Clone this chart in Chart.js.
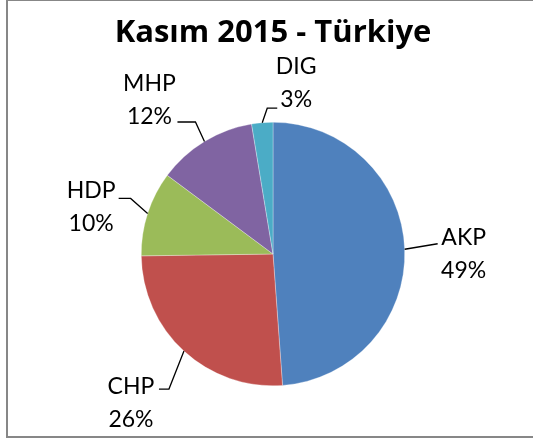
<!DOCTYPE html>
<html lang="tr">
<head>
<meta charset="utf-8">
<title>Kasım 2015 - Türkiye</title>
<script src="https://cdn.jsdelivr.net/npm/chart.js@4.4.0/dist/chart.umd.min.js"></script>
<style>
    html, body { margin: 0; padding: 0; background: #fff; overflow: hidden; }
    #kutu { position: absolute; left: 0; top: 0; width: 533px; height: 439px; }
    #cerceve {
        position: absolute; left: 6px; top: -1px; width: 600px; height: 439px;
        box-sizing: border-box; border: 2px solid #878787; pointer-events: none;
    }
</style>
</head>
<body>
<div id="kutu"><canvas id="pastaChart" width="533" height="439"></canvas></div>
<div id="cerceve"></div>
<script>
// Datos del gráfico
const partidos = ['AKP', 'CHP', 'HDP', 'MHP', 'DIG'];
const oylar = [48.8, 25.9, 10.4, 12.2, 2.6];
const colores = ['#4F81BD', '#C0504D', '#9BBB59', '#8064A2', '#4BACC6'];

// Posición de cada etiqueta respecto al borde del sector: [texto, codo, fin de línea]
const etiquetasPos = [
    { texto: [59, 5],    codo: [33, -5.5],  fin: [33, -5.5] },
    { texto: [-53, 52],  codo: [-15, 38],   fin: [-25, 38] },
    { texto: [-56.5, -6], codo: [-17, -15], fin: [-29, -15] },
    { texto: [-55, -41], codo: [-9, -19.5], fin: [-27, -19.5] },
    { texto: [34, -40],  codo: [5, -14.5],  fin: [15, -14.5] }
];

// Plugin para etiquetas con líneas guía (estilo Excel)
const etiquetasPlugin = {
    id: 'etiquetasPlugin',
    afterDatasetsDraw(chart) {
        const ctx = chart.ctx;
        const meta = chart.getDatasetMeta(0);
        const total = oylar.reduce((a, b) => a + b, 0);
        ctx.save();
        meta.data.forEach((arco, i) => {
            const medio = (arco.startAngle + arco.endAngle) / 2;
            const ax = arco.x + Math.cos(medio) * arco.outerRadius;
            const ay = arco.y + Math.sin(medio) * arco.outerRadius;
            const p = etiquetasPos[i];

            ctx.strokeStyle = '#000';
            ctx.lineWidth = 1.3;
            ctx.beginPath();
            ctx.moveTo(ax, ay);
            ctx.lineTo(ax + p.codo[0], ay + p.codo[1]);
            ctx.lineTo(ax + p.fin[0], ay + p.fin[1]);
            ctx.stroke();

            const tx = ax + p.texto[0];
            const ty = ay + p.texto[1];
            const yuzde = Math.round(oylar[i] / total * 100) + '%';
            ctx.fillStyle = '#000';
            ctx.font = '23px Lato';
            ctx.textAlign = 'center';
            ctx.textBaseline = 'middle';
            ctx.fillText(partidos[i], tx, ty - 16.5);
            ctx.fillText(yuzde, tx, ty + 16.5);
        });
        ctx.restore();
    }
};

function crearGrafico() {
    const ctxPasta = document.getElementById('pastaChart').getContext('2d');
    new Chart(ctxPasta, {
        type: 'pie',
        data: {
            labels: partidos,
            datasets: [{
                data: oylar,
                backgroundColor: colores,
                borderColor: 'rgba(255,255,255,0.6)',
                borderWidth: 0.5
            }]
        },
        options: {
            responsive: false,
            animation: false,
            layout: {
                padding: { left: 13, right: 0, top: 0, bottom: 53 }
            },
            plugins: {
                legend: { display: false },
                tooltip: { enabled: false },
                title: {
                    display: true,
                    text: 'Kasım 2015 - Türkiye',
                    color: '#000',
                    font: { family: 'Open Sans', size: 31, weight: 'bold', lineHeight: 1.2 },
                    padding: { top: 14.4, bottom: 70.4 }
                }
            }
        },
        plugins: [etiquetasPlugin]
    });
}

// Esperar a que las fuentes estén listas
Promise.all([
    document.fonts.load('bold 31px "Open Sans"'),
    document.fonts.load('23px Lato')
]).then(crearGrafico, crearGrafico);
</script>
</body>
</html>
